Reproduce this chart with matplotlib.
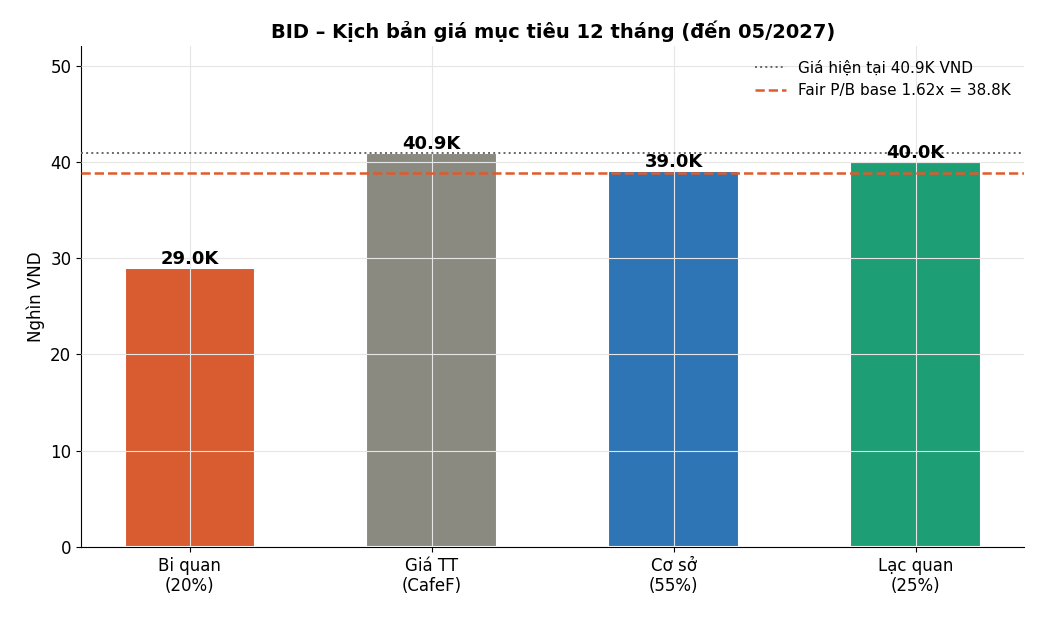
import matplotlib
matplotlib.use("Agg")
import matplotlib.pyplot as plt

categories = ["Bi quan\n(20%)", "Giá TT\n(CafeF)", "Cơ sở\n(55%)", "Lạc quan\n(25%)"]
values = [29.0, 40.9, 39.0, 40.0]
labels = ["29.0K", "40.9K", "39.0K", "40.0K"]
colors = ["#d95b30", "#8a8a80", "#2e75b6", "#1e9e75"]
current_price = 40.9
fair_pb = 38.8

fig = plt.figure(figsize=(10.39, 6.18), dpi=100)
ax = fig.add_axes([0.078, 0.115, 0.908, 0.81])
x = range(len(categories))
ax.bar(x, values, width=0.54, color=colors, edgecolor="white", linewidth=1.5, zorder=2)
for xi, v, l in zip(x, values, labels):
    ax.text(xi, v, l, ha="center", va="bottom", fontsize=13, fontweight="bold", zorder=5)
ax.axhline(current_price, color="#666666", linestyle=":", linewidth=1.4, label="Giá hiện tại 40.9K VND", zorder=3)
ax.axhline(fair_pb, color="#e05a2b", linestyle="--", linewidth=1.8, label="Fair P/B base 1.62x = 38.8K", zorder=3)
ax.set_xticks(list(x))
ax.set_xticklabels(categories, fontsize=12)
ax.tick_params(axis="y", labelsize=12)
ax.set_ylim(0, 52)
ax.set_xlim(-0.45, 3.45)
ax.set_ylabel("Nghìn VND", fontsize=12)
ax.set_title("BID – Kịch bản giá mục tiêu 12 tháng (đến 05/2027)", fontsize=14, fontweight="bold")
ax.grid(True, color="#e6e6e6", linewidth=0.8, zorder=2.5)
ax.set_axisbelow(False)
for s in ["top", "right"]:
    ax.spines[s].set_visible(False)
ax.legend(loc="upper right", frameon=False, fontsize=11)
fig.savefig("out.png", dpi=100)
